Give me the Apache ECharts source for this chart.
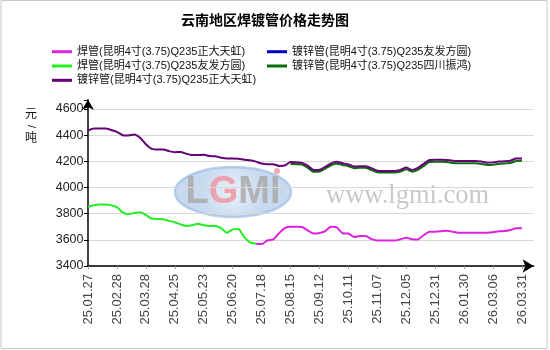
<!DOCTYPE html>
<html>
<head>
<meta charset="utf-8">
<script src="https://cdn.jsdelivr.net/npm/echarts@6/dist/echarts.min.js"></script>
<style>
  html, body { margin: 0; padding: 0; background: #fff; }
  #chart { width: 550px; height: 350px; }
</style>
</head>
<body>
<div id="chart"></div>
<script>
// Trading dates (one point roughly every four sessions); every 5th date is labelled
const dates = [
  '25.01.27','25.02.06','25.02.12','25.02.18','25.02.24',
  '25.02.28','25.03.06','25.03.12','25.03.18','25.03.24',
  '25.03.28','25.04.03','25.04.10','25.04.16','25.04.22',
  '25.04.25','25.05.06','25.05.12','25.05.16','25.05.20',
  '25.05.23','25.05.29','25.06.05','25.06.11','25.06.17',
  '25.06.20','25.06.26','25.07.02','25.07.08','25.07.14',
  '25.07.18','25.07.24','25.07.30','25.08.05','25.08.11',
  '25.08.15','25.08.21','25.08.27','25.09.02','25.09.08',
  '25.09.12','25.09.18','25.09.24','25.09.30','25.10.09',
  '25.10.11','25.10.17','25.10.23','25.10.29','25.11.04',
  '25.11.07','25.11.13','25.11.19','25.11.25','25.12.01',
  '25.12.05','25.12.11','25.12.17','25.12.23','25.12.29',
  '25.12.31','26.01.07','26.01.13','26.01.19','26.01.26',
  '26.01.30','26.02.05','26.02.11','26.02.25','26.03.03',
  '26.03.06','26.03.12','26.03.18','26.03.24','26.03.27',
  '26.03.31'
];

const seriesNames = [
  '焊管(昆明4寸(3.75)Q235正大天虹)',
  '镀锌管(昆明4寸(3.75)Q235友发方圆)',
  '焊管(昆明4寸(3.75)Q235友发方圆)',
  '镀锌管(昆明4寸(3.75)Q235四川振鸿)',
  '镀锌管(昆明4寸(3.75)Q235正大天虹)'
];

// 焊管 正大天虹: quoted from 25.07.14 onwards
const weldZhengdaStart = 29;
const weldZhengda = [
  3570,3568,3595,3603,3650,3690,3700,3700,3698,3670,
  3648,3652,3667,3700,3695,3650,3648,3622,3630,3630,
  3605,3595,3594,3594,3594,3605,3615,3605,3603,3635,
  3662,3662,3665,3670,3662,3655,3655,3655,3655,3655,
  3655,3658,3665,3667,3675,3688,3688
];

// 焊管 友发方圆: quoted until 25.07.14
const weldYoufa = [
  3853,3865,3871,3871,3865,3850,3810,3797,3805,3810,
  3790,3762,3760,3758,3745,3735,3718,3706,3712,3722,
  3712,3706,3706,3690,3655,3680,3683,3620,3580,3570
];

// 镀锌管 正大天虹: full period
const galvZhengda = [
  4435,4450,4450,4450,4440,4425,4400,4398,4405,4380,
  4330,4295,4290,4290,4278,4270,4272,4258,4248,4248,
  4250,4240,4238,4228,4222,4222,4220,4212,4208,4198,
  4183,4177,4178,4165,4168,4195,4192,4188,4165,4133,
  4135,4158,4185,4197,4185,4177,4160,4163,4162,4147,
  4128,4126,4126,4126,4135,4152,4133,4150,4180,4210,
  4212,4212,4210,4205,4203,4203,4203,4203,4198,4190,
  4192,4198,4200,4205,4222,4222
];

// 镀锌管 友发方圆: no quotes in this period
const galvYoufa = [];

// 镀锌管 四川振鸿: quoted from 25.08.15 onwards
const galvSichuanStart = 35;
const galvSichuan = [
  4180,4178,4175,4150,4120,4122,4145,4170,4182,4172,
  4163,4148,4150,4150,4133,4116,4114,4114,4114,4122,
  4140,4120,4135,4165,4195,4197,4197,4195,4188,4185,
  4185,4185,4185,4180,4172,4174,4180,4184,4188,4203,
  4205
];

const yTicks = [3400, 3600, 3800, 4000, 4200, 4400, 4600];

const colors = ['#dd22dd', '#0000d0', '#22ee22', '#0b6e0b', '#660077'];

function alignFrom(start, values) {
  return new Array(start).fill(null).concat(values);
}

const seriesData = [
  alignFrom(weldZhengdaStart, weldZhengda),
  galvYoufa,
  weldYoufa,
  alignFrom(galvSichuanStart, galvSichuan),
  galvZhengda
];

const FONT = '"Liberation Sans", Arial, "Noto Sans CJK SC", sans-serif';

const chart = echarts.init(document.getElementById('chart'), null, { renderer: 'canvas' });

const legendCommon = {
  orient: 'vertical',
  icon: 'rect',
  itemWidth: 20,
  itemHeight: 3,
  itemGap: 0.3,
  top: 39.7,
  textStyle: { fontFamily: FONT, fontSize: 11, color: '#111', lineHeight: 14 }
};

chart.setOption({
  animation: false,
  backgroundColor: '#fff',
  title: {
    text: '云南地区焊镀管价格走势图',
    left: 176,
    top: 9,
    textStyle: { fontFamily: FONT, fontSize: 14, fontWeight: 'bold', color: '#000' }
  },
  legend: [
    Object.assign({ left: 47, data: [seriesNames[0], seriesNames[2], seriesNames[4]] }, legendCommon),
    Object.assign({ left: 262, data: [seriesNames[1], seriesNames[3]] }, legendCommon)
  ],
  grid: { left: 88, top: 99.84, right: 16.4, bottom: 84 },
  xAxis: {
    type: 'category',
    data: dates,
    boundaryGap: false,
    max: 77,
    axisLine: {
      lineStyle: { color: '#000', width: 1.5 },
      symbol: ['none', 'arrow'],
      symbolSize: [10, 11]
    },
    axisTick: { show: true, interval: 4, length: 3, lineStyle: { color: '#999' } },
    axisLabel: {
      interval: 4,
      rotate: 90,
      margin: 8,
      fontFamily: FONT,
      fontSize: 13,
      color: '#444'
    },
    splitLine: { show: false }
  },
  yAxis: {
    type: 'value',
    min: yTicks[0],
    max: 4670,
    interval: 200,
    axisLine: {
      show: true,
      lineStyle: { color: '#000', width: 1.5 },
      symbol: ['none', 'arrow'],
      symbolSize: [9, 10]
    },
    axisTick: { show: true, length: 4, lineStyle: { color: '#000' } },
    axisLabel: {
      margin: 4.5,
      fontFamily: FONT,
      fontSize: 12.5,
      color: '#222',
      formatter: v => (yTicks.indexOf(v) >= 0 ? String(v) : '')
    },
    splitLine: {
      lineStyle: {
        color: ['#d9d9d9', '#d9d9d9', '#d9d9d9', '#d9d9d9', '#d9d9d9', '#d9d9d9', '#d9d9d9', 'rgba(0,0,0,0)'],
        width: 1
      }
    }
  },
  graphic: [
    // page frame
    {
      type: 'rect', z: 0,
      shape: { x: 1, y: 0.5, width: 546, height: 348 },
      style: { fill: 'none', stroke: '#c8c8c8', lineWidth: 1 }
    },
    // unit label
    { type: 'text', x: 31, y: 115, z: 5,
      style: { text: '元', fontFamily: FONT, fontSize: 12, fill: '#111', align: 'center', verticalAlign: 'middle' } },
    { type: 'text', x: 31, y: 126.5, z: 5, rotation: -Math.PI / 2,
      style: { text: '/', fontFamily: FONT, fontSize: 11, fill: '#111', align: 'center', verticalAlign: 'middle' } },
    { type: 'text', x: 31, y: 139, z: 5,
      style: { text: '吨', fontFamily: FONT, fontSize: 12, fill: '#111', align: 'center', verticalAlign: 'middle' } },
    // watermark logo
    {
      type: 'group', z: 1, silent: true,
      children: [
        {
          type: 'ellipse',
          shape: { cx: 233, cy: 192, rx: 58, ry: 25 },
          style: {
            fill: new echarts.graphic.RadialGradient(0.5, 0.5, 0.6, [
              { offset: 0, color: 'rgba(225,235,248,0.75)' },
              { offset: 1, color: 'rgba(180,205,235,0.75)' }
            ]),
            stroke: 'rgba(160,190,225,0.7)',
            lineWidth: 2.5
          }
        },
        {
          type: 'text', x: 233, y: 193,
          style: {
            text: '{a|L}{b|G}{a|MI}',
            align: 'center', verticalAlign: 'middle',
            rich: {
              a: { fontFamily: FONT, fontSize: 38, fontWeight: 'bold', fill: 'rgba(170,170,170,0.85)' },
              b: { fontFamily: FONT, fontSize: 38, fontWeight: 'bold', fill: 'rgba(240,150,160,0.85)' }
            }
          }
        },
        {
          type: 'circle', shape: { cx: 277, cy: 171, r: 3 },
          style: { fill: 'rgba(240,150,160,0.8)' }
        }
      ]
    },
    {
      type: 'text', x: 326, y: 196, z: 1, silent: true,
      style: {
        text: 'www.lgmi.com',
        fontFamily: '"Liberation Serif", "DejaVu Serif", serif',
        fontSize: 26.5,
        fill: 'rgba(190,190,190,0.85)',
        align: 'left', verticalAlign: 'middle'
      }
    }
  ],
  series: seriesNames.map((name, i) => ({
    name: name,
    type: 'line',
    data: seriesData[i],
    color: colors[i],
    showSymbol: false,
    symbol: 'none',
    smooth: 0.2,
    connectNulls: false,
    lineStyle: { width: 2, color: colors[i] },
    z: 3
  }))
});
</script>
</body>
</html>
